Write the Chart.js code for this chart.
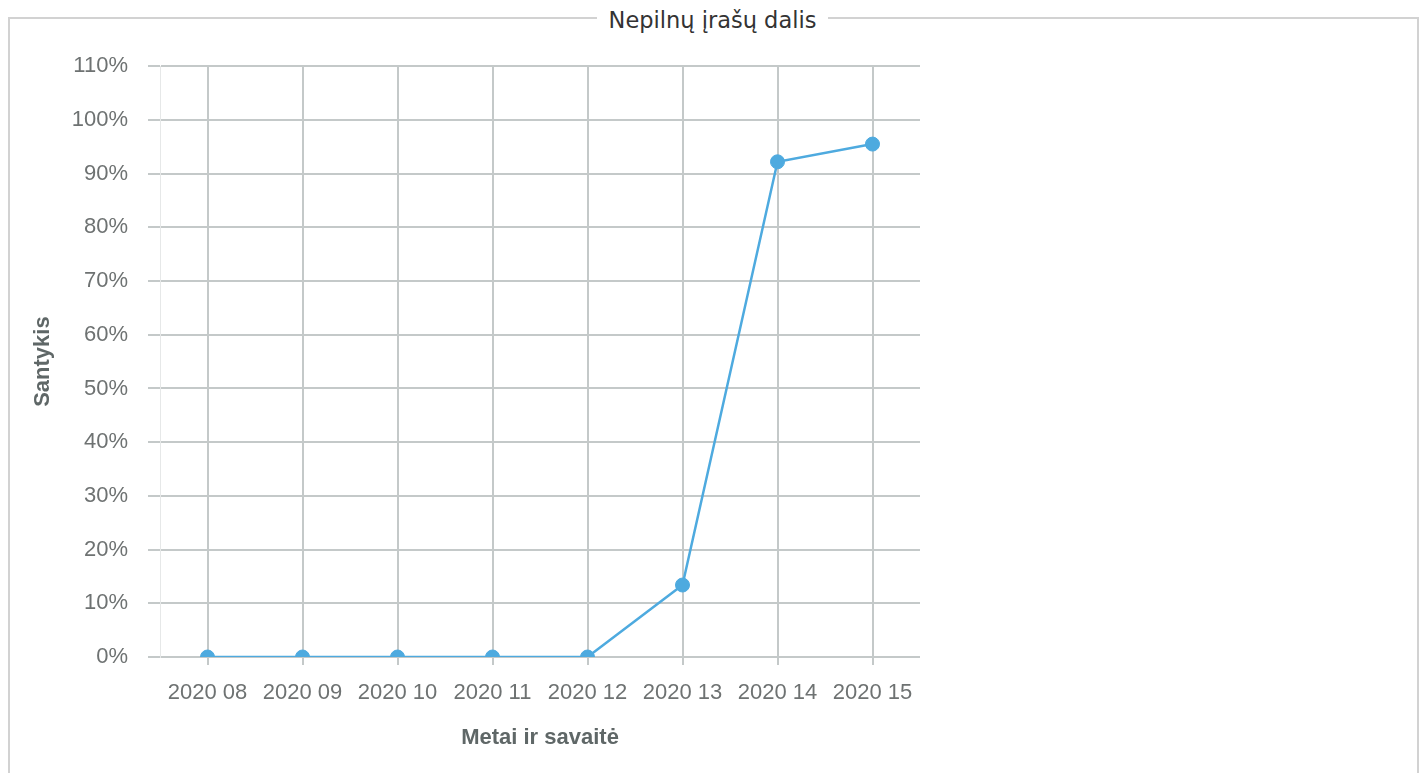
<!DOCTYPE html>
<html>
<head>
<meta charset="utf-8">
<script src="https://cdn.jsdelivr.net/npm/chart.js@4/dist/chart.umd.min.js"></script>
<style>
  body { margin: 0; background: #fff; }
  .box {
    position: absolute; left: 8px; top: 17px;
    width: 1407px; height: 800px;
    border: 2px solid #d2d2d2;
  }
  .caption {
    position: absolute; left: 0; right: 0; top: 7px;
    text-align: center; line-height: 26px;
  }
  .caption span {
    background: #fff; padding: 0 12px;
    font: 22.5px "DejaVu Sans", sans-serif; color: #333;
  }
  .holder {
    position: absolute; left: 10px; top: 33px;
    width: 940px; height: 740px;
  }
</style>
</head>
<body>
<div class="box"></div>
<div class="caption"><span>Nepilnų įrašų dalis</span></div>
<div class="holder"><canvas id="chart"></canvas></div>
<script>
// data
const weeks = ['2020 08', '2020 09', '2020 10', '2020 11', '2020 12', '2020 13', '2020 14', '2020 15'];
const share = [0, 0, 0, 0, 0, 13.4, 92.2, 95.5];

const yTitle = 'Santykis';
const xTitle = 'Metai ir savaitė';

const gridColor = '#c4c9c9';
const tickColor = '#6e7272';
const titleColor = '#5f6767';
const lineColor = '#4eaadf';
const face = '"Liberation Sans", Arial, sans-serif';

const chart = new Chart(document.getElementById('chart'), {
  type: 'line',
  data: {
    labels: weeks,
    datasets: [{
      data: share,
      borderColor: lineColor,
      backgroundColor: lineColor,
      borderWidth: 2.5,
      pointRadius: 7,
      pointBorderWidth: 1,
      pointBackgroundColor: lineColor,
      tension: 0,
      clip: 0
    }]
  },
  options: {
    responsive: true,
    maintainAspectRatio: false,
    animation: false,
    layout: { padding: { top: 0, right: 30, left: 0, bottom: 0 } },
    plugins: {
      legend: { display: false },
      tooltip: { enabled: false }
    },
    scales: {
      x: {
        offset: true,
        grid: { offset: false, color: gridColor, lineWidth: 2, tickLength: 8 },
        border: { display: false },
        ticks: {
          color: tickColor,
          padding: 15,
          maxRotation: 0,
          font: { family: face, size: 22 }
        },
        title: {
          display: true,
          text: xTitle,
          color: titleColor,
          padding: { top: 0, bottom: 22 },
          font: { family: face, size: 22, weight: 'bold' }
        },
        afterFit(scale) { scale.height = 116; }
      },
      y: {
        min: 0,
        max: 110,
        grid: { color: gridColor, lineWidth: 2, tickLength: 12 },
        border: { display: true, color: '#e6e8e8', width: 1 },
        ticks: {
          stepSize: 10,
          color: tickColor,
          padding: 20,
          font: { family: face, size: 22 },
          callback: v => v + '%'
        },
        title: {
          display: true,
          text: yTitle,
          color: titleColor,
          padding: { top: 20, bottom: 0 },
          font: { family: face, size: 22, weight: 'bold' }
        },
        afterFit(scale) { scale.width = 150; }
      }
    }
  }
});
</script>
</body>
</html>
